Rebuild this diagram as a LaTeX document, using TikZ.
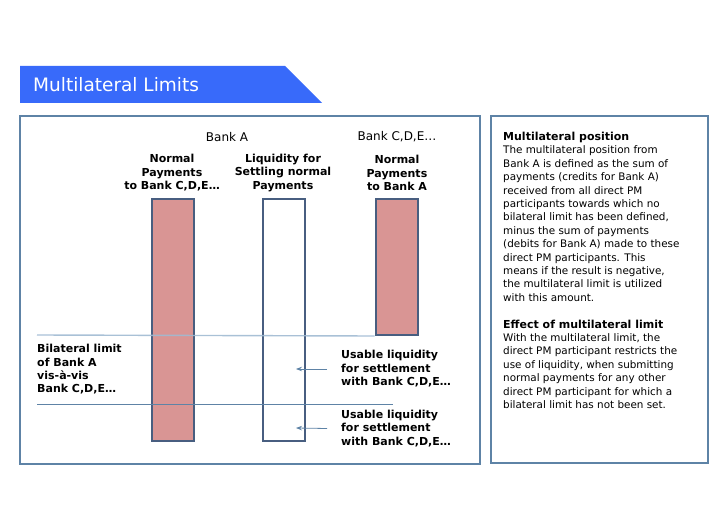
\documentclass[tikz,border=0pt]{standalone}
\usepackage{fontspec}
\setmainfont{DejaVu Sans}
\usetikzlibrary{arrows.meta}

\definecolor{frameblue}{RGB}{94,131,166}
\definecolor{baredge}{RGB}{72,94,128}
\definecolor{barpink}{RGB}{217,149,148}
\definecolor{titleblue}{RGB}{56,106,250}
\definecolor{lightline}{RGB}{160,186,210}

\begin{document}
\begin{tikzpicture}[x=1pt,y=1pt,
    paybar/.style={draw=baredge, line width=2pt, minimum width=42pt, inner sep=0pt},
    headtext/.style={font=\bfseries\fontsize{11}{13.4}\selectfont, align=center, inner sep=0pt},
    sidetext/.style={font=\bfseries\fontsize{11}{13.4}\selectfont, align=left, anchor=west, inner sep=0pt},
    banktext/.style={font=\fontsize{12}{14}\selectfont, inner sep=0pt},
    usearrow/.style={draw=frameblue, line width=0.8pt, -{Stealth[length=6pt,width=4.5pt]}}]

    \useasboundingbox (0,0) rectangle (728,504);

    % title banner
    \fill[titleblue] (20,438) -- (285,438) -- (322,401) -- (20,401) -- cycle;
    \node[anchor=west, text=white, font=\fontsize{18.5}{20}\selectfont, inner sep=0pt] (title) at (33,419) {Multilateral Limits};

    % frames
    \draw[frameblue, line width=1.8pt] (20,388) rectangle (480,40);
    \draw[frameblue, line width=1.8pt] (491,388) rectangle (708,41);

    % bank labels
    \node[banktext] (bankA) at (227,367) {Bank A};
    \node[banktext] (bankC) at (397,367) {Bank C,D,E…};

    \node[headtext] (headA) at (172,331) {Normal\\Payments\\to Bank C,D,E…};
    \node[headtext] (headL) at (283,331) {Liquidity for\\Settling normal\\Payments};
    \node[headtext] (headC) at (397,331) {Normal\\Payments\\to Bank A};

    % bars
    \node[paybar, fill=barpink, minimum height=242pt] (barA) at (173,184) {};
    \node[paybar, fill=white, minimum height=242pt] (barL) at (284,184) {};
    \node[paybar, fill=barpink, minimum height=136pt] (barC) at (396.5,237) {};

    % limit lines
    \coordinate (lim1) at (37,169);
    \coordinate (lim2) at (37,100);
    \coordinate (lim2end) at (393,100);
    \draw[lightline, line width=1.4pt, opacity=0.9] (lim1) -- (barC.south west);
    \draw[frameblue, line width=1pt] (lim2) -- (lim2end);

    \node[sidetext] (bilat) at (37,134.5) {Bilateral limit\\of Bank A\\vis-à-vis\\Bank C,D,E…};
    \node[sidetext] (use1) at (341,135) {Usable liquidity\\for settlement\\with Bank C,D,E…};
    \node[sidetext] (use2) at (341,75.5) {Usable liquidity\\for settlement\\with Bank C,D,E…};

    % arrows
    \coordinate (arr1) at (296,135);
    \coordinate (arr2) at (296,76);
    \draw[usearrow] (use1.west) ++(-14,0) coordinate (from1) (from1) -- (arr1);
    \draw[usearrow] (use2.west) ++(-14,0) coordinate (from2) (from2) -- (arr2);

    % explanation
    \node[anchor=north west, align=left, inner sep=0pt, font=\fontsize{10.4}{13.4}\selectfont] (note) at (503,372) {%
        \textbf{\fontsize{11}{13.4}\selectfont Multilateral position}\\
        The multilateral position from\\
        Bank A is defined as the sum of\\
        payments (credits for Bank A)\\
        received from all direct PM\\
        participants towards which no\\
        bilateral limit has been defined,\\
        minus the sum of payments\\
        (debits for Bank A) made to these\\
        direct PM participants. This\\
        means if the result is negative,\\
        the multilateral limit is utilized\\
        with this amount.\\[13.4pt]
        \textbf{\fontsize{11}{13.4}\selectfont Effect of multilateral limit}\\
        With the multilateral limit, the\\
        direct PM participant restricts the\\
        use of liquidity, when submitting\\
        normal payments for any other\\
        direct PM participant for which a\\
        bilateral limit has not been set.};

\end{tikzpicture}
\end{document}
